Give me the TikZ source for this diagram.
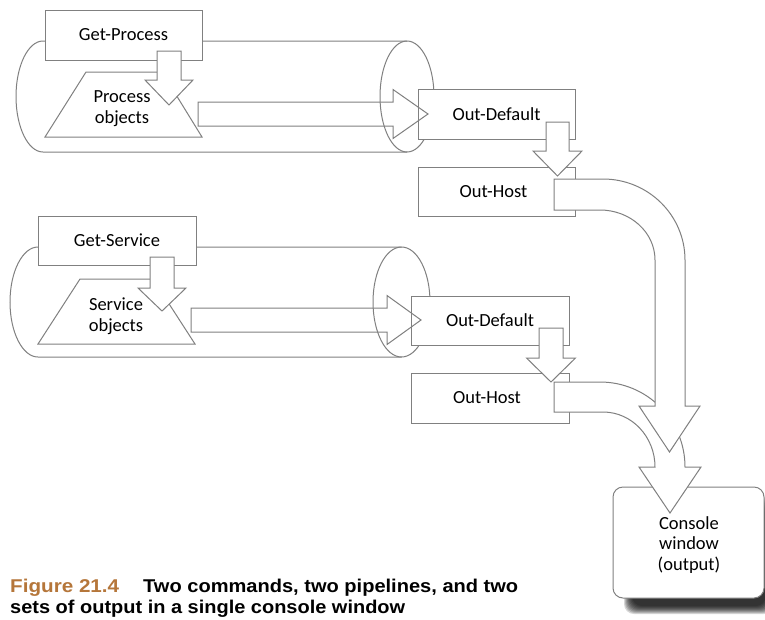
\documentclass[tikz,border=0pt]{standalone}
\usepackage{fontspec}
\setmainfont{Carlito}
\newfontfamily\capfont{Liberation Sans}
\definecolor{lc}{RGB}{128,128,128}
\definecolor{figc}{RGB}{181,118,58}
\newcommand{\blkdown}[6]{\draw[blk] (#1-#5,#2) -- (#1+#5,#2) -- (#1+#5,#3) -- (#1+#6,#3) -- (#1,#4) -- (#1-#6,#3) -- (#1-#5,#3) -- cycle;}
\newcommand{\blkright}[6]{\draw[blko] (#1,#4-#5) -- (#2,#4-#5) -- (#2,#4-#6) -- (#3,#4) -- (#2,#4+#6) -- (#2,#4+#5) -- (#1,#4+#5) -- cycle;}
\begin{document}
\begin{tikzpicture}[x=1pt,y=-1pt,
  lin/.style={draw=lc, line width=1pt},
  blk/.style={draw=lc, fill=white, line width=1pt, line join=miter},
  blko/.style={draw=lc, line width=1pt, line join=miter},
  box/.style={draw=lc, fill=white, line width=1pt, inner sep=0pt,
    minimum width=157pt, minimum height=50pt,
    font=\fontsize{18.5}{21}\selectfont},
  lbl/.style={inner sep=0pt, align=center, font=\fontsize{18.5}{20.5}\selectfont},
  captxt/.style={inner sep=0pt, anchor=base west, font=\capfont\bfseries\fontsize{18.5}{22}\selectfont}]
\clip (0,0) rectangle (765,619);
\fill[white] (0,0) rectangle (765,619);

% ---------- pipeline 1 ----------
\draw[lin] (407,41) -- (43,41) arc[start angle=270, end angle=90, x radius=27, y radius=55.5] -- (407,152);
\draw[lin] (407,96.5) ellipse [x radius=27, y radius=55.5];
\node[box] (gp) at (123.5,35) {Get-Process};
\draw[lin, fill=white] (86,72) -- (162,72) -- (202,137) -- (45,137) -- cycle;
\node[lbl] (po) at (122,108.5) {Process\\objects};
\blkdown{169}{51}{80}{105}{12}{24}
\node[box] (od1) at (496.5,114) {Out-Default};
\blkright{198}{393}{428}{114}{12}{24.5}
\node[box, minimum height=49pt] (oh1) at (496.5,191.5) {\hspace*{-6pt}Out-Host};
\blkdown{557.5}{122}{151}{176}{11.5}{24.5}

% ---------- pipeline 2 ----------
\draw[lin] (401.5,247) -- (38,247) arc[start angle=270, end angle=90, x radius=28, y radius=55] -- (401.5,357);
\draw[lin] (401.5,302) ellipse [x radius=28.5, y radius=55];
\node[box, minimum width=158pt, minimum height=49pt] (gs) at (117,240.5) {Get-Service};
\draw[lin, fill=white] (80,279) -- (153,279) -- (195,344) -- (38,344) -- cycle;
\node[lbl] (so) at (116,316) {Service\\objects};
\blkdown{162}{257}{288}{311}{12}{24}
\node[box, minimum width=158pt, minimum height=49pt] (od2) at (490,320.5) {Out-Default};
\blkright{191}{387}{421}{320}{12}{24.5}
\node[box, minimum width=158pt] (oh2) at (490,398) {\hspace*{-6pt}Out-Host};
\blkdown{551}{328}{358}{382}{12}{24.5}

% ---------- console window ----------
\foreach \i in {0,...,8}
  \fill[black, opacity=0.16, rounded corners=10pt] (624+\i,498+\i) rectangle (774-\i,614-\i);
\node[draw=lc, fill=white, line width=1pt, rounded corners=10pt, inner sep=0pt,
  minimum width=151pt, minimum height=111pt] (cw) at (688.5,542.5) {};
\node[lbl] (cwt) at (689,545) {Console\\window\\(output)};

% ---------- curved arrows ----------
\draw[blk] (554,382) -- (600,382) .. controls (647,382) and (685,420) .. (685,467)
  -- (701,467) -- (670,513) -- (639,467) -- (655,467)
  .. controls (655,437) and (632,412) .. (603,412) -- (554,412) -- cycle;
\draw[blk] (554,179) -- (603,179) .. controls (648,179) and (685,215) .. (685,260)
  -- (685,406) -- (700,406) -- (669.5,452) -- (639,406) -- (655,406) -- (655,260)
  .. controls (655,232) and (630,210) .. (600,210) -- (554,210) -- cycle;

% ---------- caption ----------
\node[captxt, text=figc] (fl) at (10,592) {\resizebox{109pt}{\height}{Figure 21.4}};
\node[captxt] (c1) at (143,592) {\resizebox{375pt}{\height}{Two commands, two pipelines, and two}};
\node[captxt] (c2) at (10,613) {\resizebox{395pt}{\height}{sets of output in a single console window}};
\end{tikzpicture}
\end{document}
